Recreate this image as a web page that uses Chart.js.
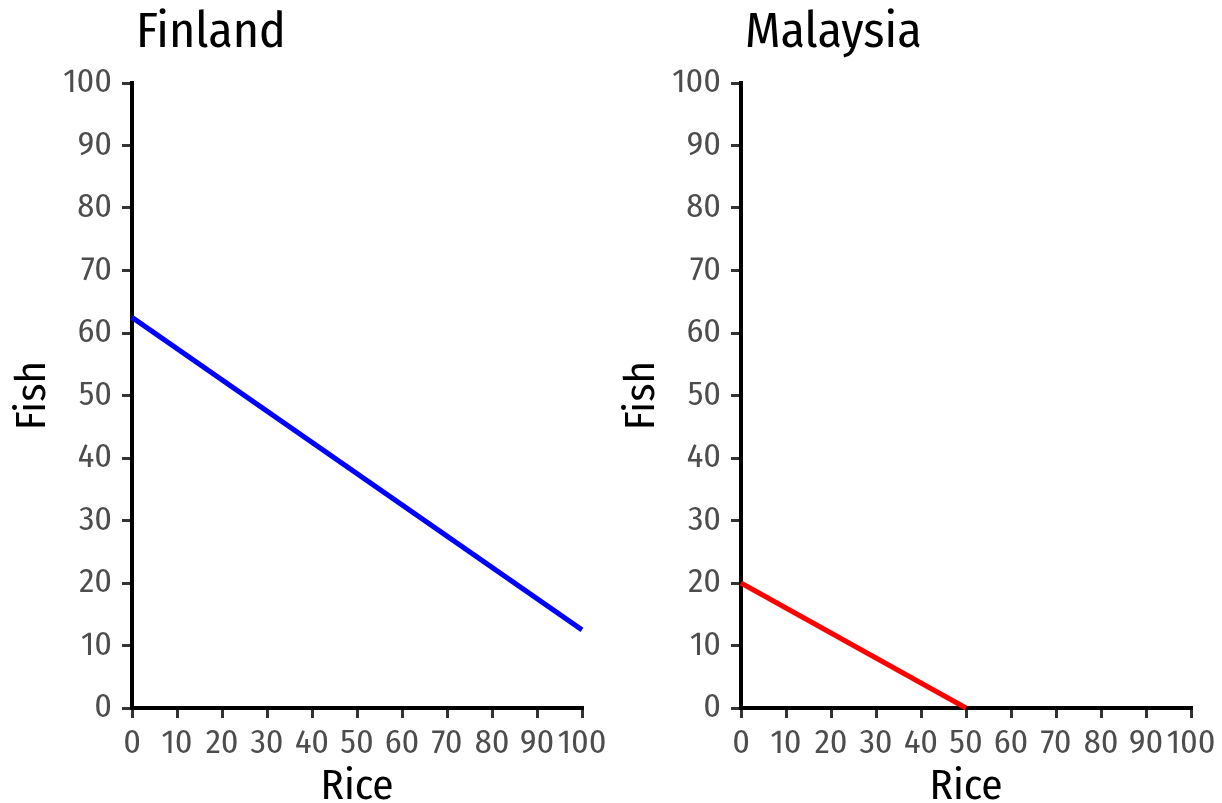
<!DOCTYPE html>
<html>
<head>
<meta charset="utf-8">
<script src="https://cdn.jsdelivr.net/npm/chart.js@4"></script>
<style>
  body { margin: 0; background: #fff; }
  #wrap { position: relative; width: 1222px; height: 803px; }
  .panel { position: absolute; top: 0; height: 803px; }
</style>
</head>
<body>
<div id="wrap">
  <div class="panel" style="left:0;width:609px"><canvas id="finland"></canvas></div>
  <div class="panel" style="left:609px;width:613px"><canvas id="malaysia"></canvas></div>
</div>
<script>
// data
const finlandRice = [0, 100];
const finlandFish = [62.5, 12.5];
const malaysiaRice = [0, 50];
const malaysiaFish = [20, 0];
const axisTicks = [0, 10, 20, 30, 40, 50, 60, 70, 80, 90, 100];

const FONT = "'Fira Sans Condensed', 'Roboto Condensed', 'DejaVu Sans Condensed', sans-serif";

// move the title a little to the right, like the original
const titleNudge = {
  id: 'titleNudge',
  afterLayout(chart) {
    if (chart.titleBlock) {
      chart.titleBlock.left += 4;
      chart.titleBlock.right += 4;
    }
  }
};

function makeChart(id, title, rice, fish, color, padRight) {
  const points = rice.map((r, i) => ({ x: r, y: fish[i] }));
  const axisCommon = {
    type: 'linear',
    min: 0,
    max: 100,
    afterBuildTicks: s => { s.ticks = axisTicks.map(v => ({ value: v })); },
    border: { display: true, color: '#000', width: 4 },
    grid: { drawOnChartArea: false, drawTicks: true, tickLength: 10, color: '#333', lineWidth: 3 },
    ticks: { color: '#4d4d4d', font: { family: FONT, size: 34 }, maxRotation: 0, autoSkip: false }
  };
  return new Chart(document.getElementById(id), {
    type: 'line',
    data: {
      datasets: [{
        data: points,
        borderColor: color,
        borderWidth: 5,
        pointRadius: 0,
        fill: false,
        clip: false
      }]
    },
    options: {
      responsive: true,
      maintainAspectRatio: false,
      animation: false,
      devicePixelRatio: 1,
      layout: { padding: { left: 0, right: padRight, top: 0, bottom: 0 } },
      plugins: {
        legend: { display: false },
        tooltip: { enabled: false },
        title: {
          display: true,
          text: title,
          align: 'start',
          fullSize: false,
          color: '#000',
          font: { family: FONT, size: 50, weight: 'normal', lineHeight: 1 },
          padding: { top: 8, bottom: 25 }
        }
      },
      scales: {
        x: Object.assign({}, axisCommon, {
          ticks: Object.assign({}, axisCommon.ticks, { padding: 5 }),
          title: { display: true, text: 'Rice', color: '#000', font: { family: FONT, size: 43, lineHeight: 0.75 }, padding: { top: 0, bottom: 0 } },
          afterFit: s => { s.height = 95; s.paddingLeft = 0; s.paddingRight = 0; }
        }),
        y: Object.assign({}, axisCommon, {
          ticks: Object.assign({}, axisCommon.ticks, { padding: 10 }),
          title: { display: true, text: 'Fish', color: '#000', font: { family: FONT, size: 43, lineHeight: 1 }, padding: { top: 11, bottom: 0 } },
          afterFit: s => { s.width = 132; s.paddingTop = 0; s.paddingBottom = 0; }
        })
      }
    },
    plugins: [titleNudge]
  });
}

makeChart('finland', 'Finland', finlandRice, finlandFish, '#0000ff', 27);
makeChart('malaysia', 'Malaysia', malaysiaRice, malaysiaFish, '#ff0000', 31);
</script>
</body>
</html>
